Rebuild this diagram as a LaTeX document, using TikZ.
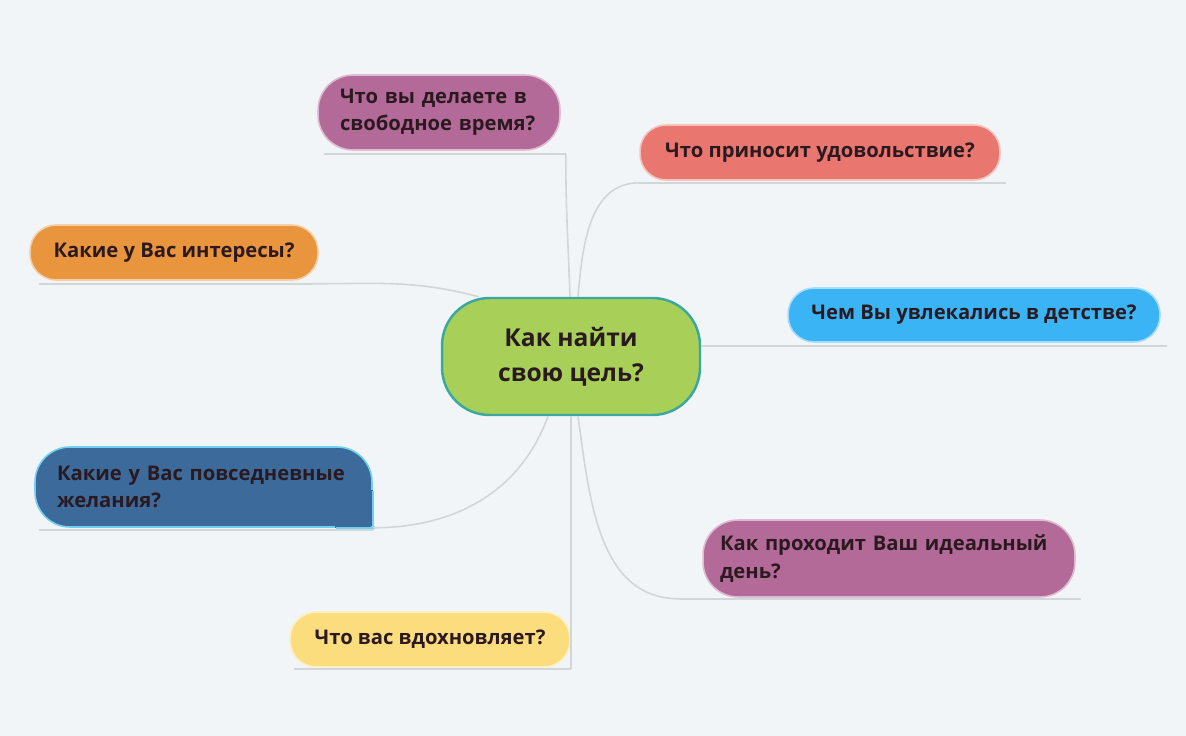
\documentclass[tikz,border=0pt]{standalone}
\usepackage{fontspec}
\setmainfont{Open Sans}
\usetikzlibrary{positioning}
\definecolor{paper}{HTML}{F1F5F8}
\definecolor{mauve}{HTML}{B46A98}
\definecolor{salmon}{HTML}{E9776F}
\definecolor{amber}{HTML}{E9953E}
\definecolor{sky}{HTML}{3AB4F5}
\definecolor{steel}{HTML}{3B6A9B}
\definecolor{butter}{HTML}{FCDD7E}
\definecolor{leaf}{HTML}{A8CF57}
\definecolor{teal}{HTML}{3AA89E}
\definecolor{cyanedge}{HTML}{6FD0F0}
\definecolor{ink}{HTML}{2A1A20}
\definecolor{linkcol}{HTML}{D2D6D9}

\begin{document}
\begin{tikzpicture}[x=0.02cm,y=-0.02cm,
    idea/.style={fill=#1, draw=#1!45!white, line width=0.9pt, rounded corners=0.52cm,
        inner sep=0pt, align=left, text=ink, font=\bfseries\fontsize{11.5}{15.6}\selectfont},
    core/.style={fill=leaf, draw=teal, line width=1.4pt, rounded corners=0.95cm,
        inner sep=0pt, align=center, text=ink, font=\bfseries\fontsize{14}{20}\selectfont},
    link/.style={draw=linkcol, line width=0.9pt},
    uline/.style={draw=linkcol, line width=0.9pt}]
    % background
    \fill[paper] (0,0) rectangle (1186,736);
    \useasboundingbox (0,0) rectangle (1186,736);
    % nodes
    \node[core, minimum width=5.16cm, minimum height=2.34cm] (goal) at (571,356.5) {Как найти\\свою цель?};
    \node[idea=mauve, text width=3.96cm, inner xsep=0.44cm, minimum height=1.5cm, rounded corners=0.7cm] (free) at (439,112.5) {Что вы делаете в\\свободное время?};
    \node[idea=salmon, minimum width=7.2cm, minimum height=1.1cm] (joy) at (820,152.5) {Что приносит удовольствие?};
    \node[idea=amber, minimum width=5.76cm, minimum height=1.1cm] (hobby) at (174,252.5) {Какие у Вас интересы?};
    \node[idea=sky, minimum width=7.44cm, minimum height=1.08cm] (child) at (974,315) {Чем Вы увлекались в детстве?};
    \node[idea=steel, draw=cyanedge, text width=5.86cm, inner xsep=0.44cm, minimum height=1.6cm, rounded corners=0.7cm] (wish) at (203.5,487) {Какие у Вас повседневные\\желания?};
    \node[idea=mauve, text width=6.76cm, inner xsep=0.34cm, minimum height=1.54cm, rounded corners=0.7cm] (day) at (889,558.5) {Как проходит Ваш идеальный\\день?};
    \node[idea=butter, minimum width=5.6cm, minimum height=1.1cm] (muse) at (430,639.5) {Что вас вдохновляет?};
    % square corner of the selected topic
    \fill[steel] ([xshift=-0.76cm]wish.south east) rectangle ([yshift=0.76cm]wish.south east);
    \draw[cyanedge, line width=0.9pt] ([xshift=-0.74cm]wish.south east) -- (wish.south east) -- ([yshift=0.74cm]wish.south east);
    \fill[cyanedge] (wish.south east) circle (2.2);
    % ends of the connectors
    \coordinate (freeEnd) at ([shift={(0.1cm,-0.06cm)}]free.south east);
    \coordinate (joyEnd) at ([yshift=-0.04cm]joy.south west);
    \coordinate (hobbyEnd) at ([shift={(-0.16cm,-0.06cm)}]hobby.south east);
    \coordinate (childEnd) at ([yshift=-0.06cm]child.south west);
    \coordinate (wishEnd) at (wish.south east);
    \coordinate (dayEnd) at ([shift={(-0.46cm,-0.02cm)}]day.south west);
    \coordinate (museEnd) at ([yshift=-0.02cm]muse.south east);
    % underlines
    \draw[uline] ([shift={(0.14cm,-0.06cm)}]free.south west) -- (freeEnd);
    \draw[uline] (joyEnd) -- ([shift={(0.1cm,-0.04cm)}]joy.south east);
    \draw[uline] ([shift={(0.2cm,-0.06cm)}]hobby.south west) -- (hobbyEnd);
    \draw[uline] (goal.east |- childEnd) -- ([shift={(0.12cm,-0.06cm)}]child.south east);
    \draw[uline] ([shift={(0.1cm,-0.04cm)}]wish.south west) -- ([yshift=-0.04cm]wishEnd);
    \draw[uline] (dayEnd) -- ([shift={(0.1cm,-0.02cm)}]day.south east);
    \draw[uline] ([shift={(0.1cm,-0.02cm)}]muse.south west) -- (museEnd);
    % connectors
    \draw[link] ([xshift=-0.02cm]goal.north) to[out=92,in=-90] (freeEnd);
    \draw[link] ([xshift=0.14cm]goal.north) to[out=85,in=180] (joyEnd);
    \draw[link] (hobbyEnd) to[out=0,in=165] ([xshift=0.76cm]goal.north west);
    \draw[link] (wishEnd) to[out=0,in=-110] ([xshift=-0.46cm]goal.south);
    \draw[link] ([xshift=0.14cm]goal.south) to[out=-82,in=180] (dayEnd);
    \draw[link] (goal.south -| museEnd) -- (museEnd);
\end{tikzpicture}
\end{document}
